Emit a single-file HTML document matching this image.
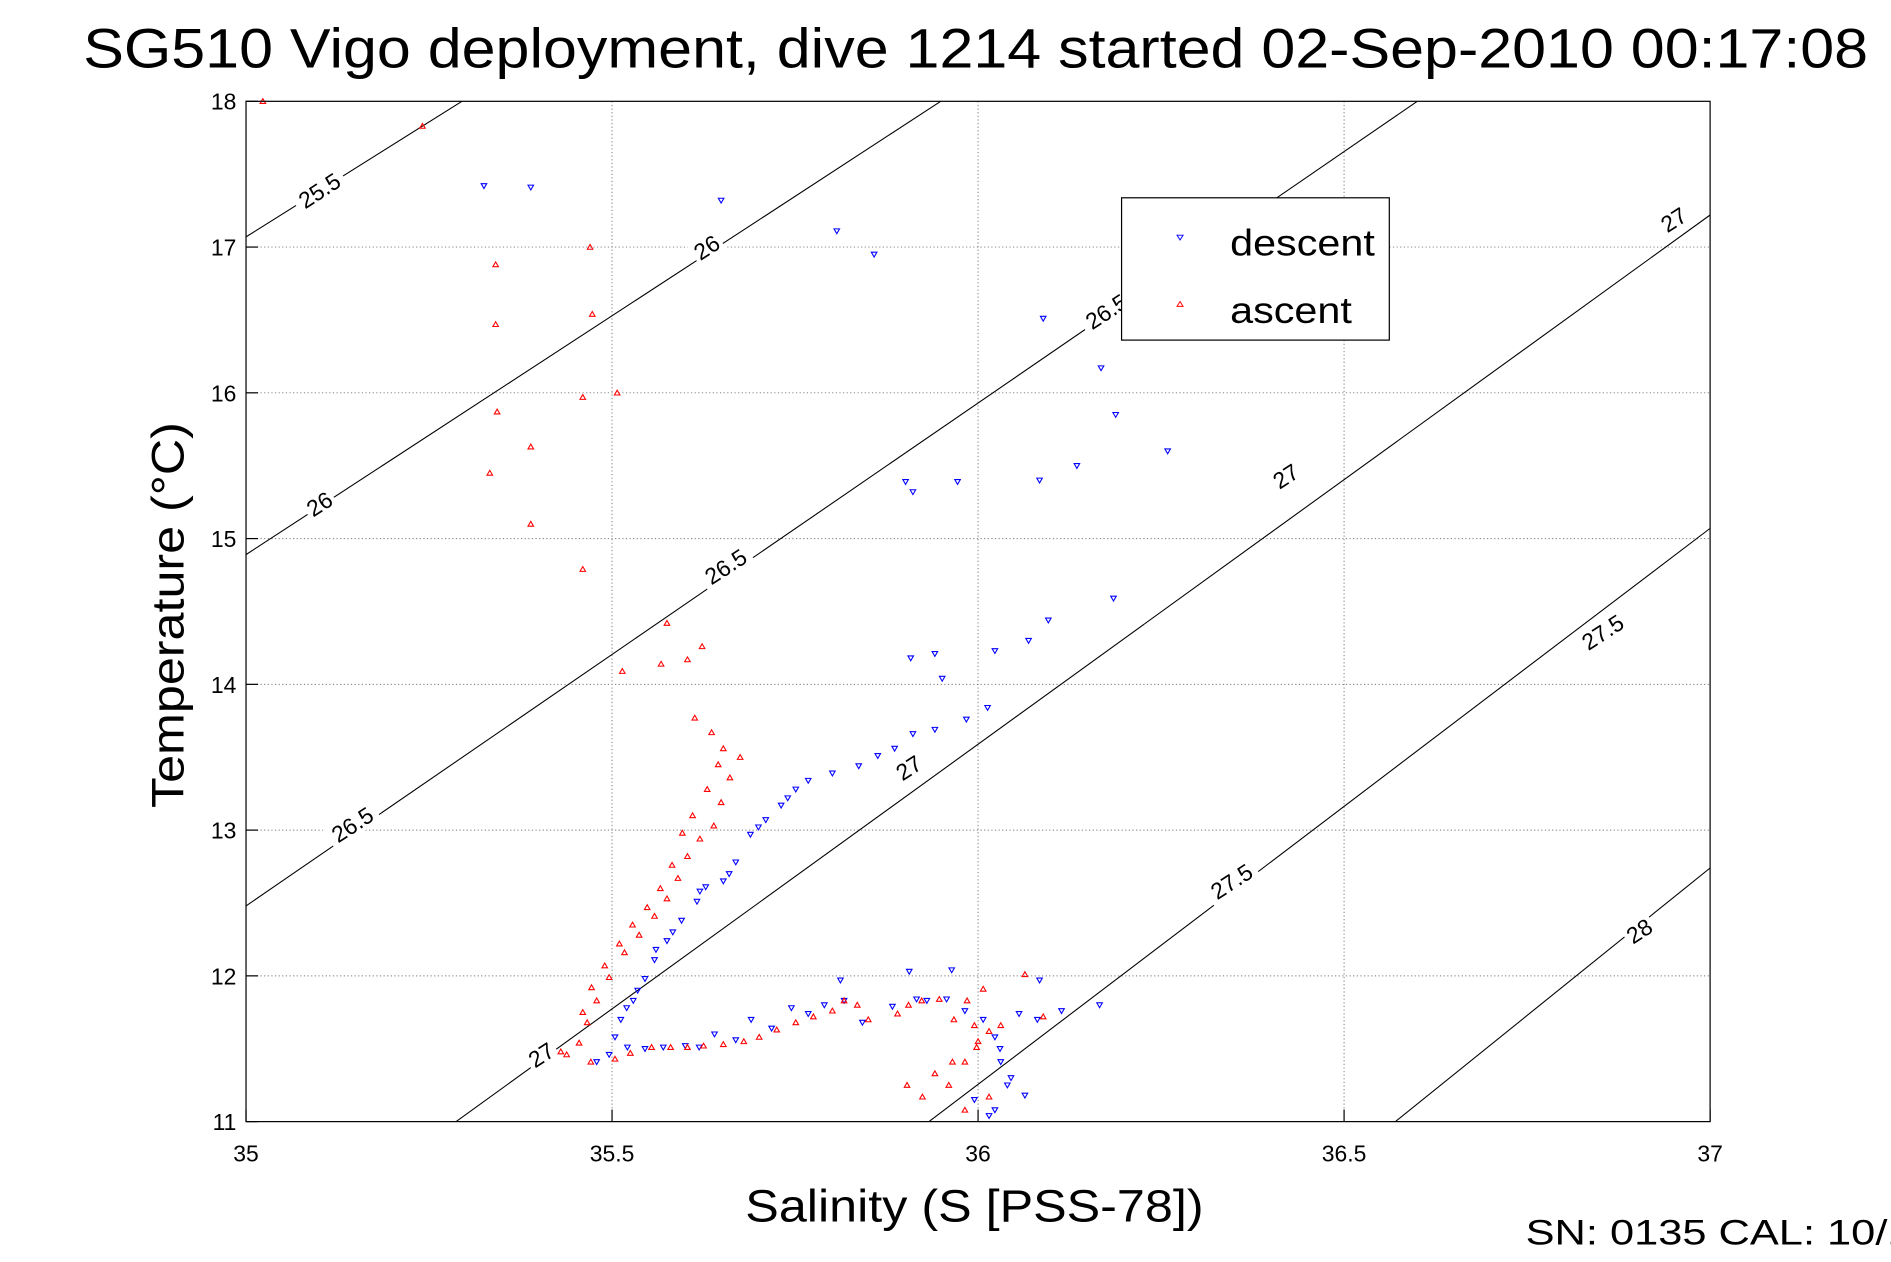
<!DOCTYPE html>
<html><head><meta charset="utf-8"><style>
html,body{margin:0;padding:0;background:#fff}
svg{display:block}
text{font-family:"Liberation Sans",sans-serif;fill:#000}
</style></head><body>
<svg id="chart" width="1891" height="1262" viewBox="0 0 1568 1046.4" preserveAspectRatio="none" xmlns="http://www.w3.org/2000/svg">
<rect width="1568" height="1046.4" fill="#fff"/>
<text x="809" y="56" font-size="46" text-anchor="middle" textLength="1480" lengthAdjust="spacingAndGlyphs">SG510 Vigo deployment, dive 1214 started 02-Sep-2010 00:17:08</text>
<g id="grid"></g>
<g id="contours"></g>
<g id="marks"></g>
<rect x="204" y="84" width="1214" height="846" fill="none" stroke="#000" stroke-width="1"/>
<g id="axes"></g>
<text transform="translate(152,510) rotate(-90)" font-size="38" text-anchor="middle" textLength="320" lengthAdjust="spacingAndGlyphs">Temperature (°C)</text>
<text x="808" y="1013" font-size="38" text-anchor="middle" textLength="380" lengthAdjust="spacingAndGlyphs">Salinity (S [PSS-78])</text>
<text x="1265" y="1032" font-size="29" textLength="320" lengthAdjust="spacingAndGlyphs">SN: 0135  CAL: 10/1</text>
<g>
<rect x="930" y="164" width="222" height="118" fill="#fff" stroke="#000" stroke-width="1"/>
<path d="M976,195 L981,195 L978.5,199 Z" fill="none" stroke="#00f" stroke-width="0.8"/>
<text x="1020" y="212" font-size="31" textLength="120" lengthAdjust="spacingAndGlyphs">descent</text>
<path d="M976,254 L981,254 L978.5,250 Z" fill="none" stroke="#f00" stroke-width="0.8"/>
<text x="1020" y="268" font-size="31" textLength="101" lengthAdjust="spacingAndGlyphs">ascent</text>
</g>
</svg>
<script>
const xTicks=[35,35.5,36,36.5,37];
const xTickLabels=["35","35.5","36","36.5","37"];
const yTicks=[11,12,13,14,15,16,17,18];
const yTickLabels=["11","12","13","14","15","16","17","18"];
const contourLevels=["25.5","26","26.5","27","27.5","28"];
const contourStartS=[35,35,35,35.287,35.933,36.570];
const contourStartT=[17.07,14.89,12.48,11,11,11];
const contourEndS=[35.295,35.949,36.600,37,37,37];
const contourEndT=[18,18,18,17.22,15.07,12.74];
const labelLevel=["25.5","26","26","26.5","26.5","26.5","27","27","27","27","27.5","27.5","28"];
const labelS=[35.100,35.629,35.100,35.655,35.145,36.175,36.950,36.420,35.905,35.403,36.853,36.346,36.903];
const labelT=[17.39,17.00,15.24,14.81,13.04,16.56,17.19,15.43,13.43,11.46,14.36,12.65,12.31];
const descentS=[35.325,35.389,35.649,35.807,35.858,36.089,36.168,36.188,36.259,36.135,36.084,35.901,35.911,35.972,36.185,36.096,36.069,36.023,35.908,35.941,35.951,36.013,35.984,35.941,35.911,35.886,35.863,35.837,35.801,35.768,35.751,35.731,35.710,35.689,35.669,35.652,35.628,35.616,35.595,35.575,35.558,35.545,35.529,35.512,35.504,35.496,35.479,35.521,35.570,35.619,35.669,35.718,35.768,35.817,35.842,35.883,35.916,35.957,35.982,36.007,36.023,36.031,36.040,36.023,36.015,36.056,36.081,36.114,36.166,35.812,35.906,35.964,36.084,36.064,35.995,35.740,35.700,35.660,35.620,35.583,35.560,35.535,35.520,35.545,35.600,35.640,35.690,35.745,35.790,35.930,36.030,36.045];
const descentT=[17.42,17.41,17.32,17.11,16.95,16.51,16.17,15.85,15.60,15.50,15.40,15.39,15.32,15.39,14.59,14.44,14.30,14.23,14.18,14.21,14.04,13.84,13.76,13.69,13.66,13.56,13.51,13.44,13.39,13.34,13.28,13.17,13.07,12.97,12.78,12.65,12.61,12.51,12.38,12.24,12.11,11.98,11.83,11.70,11.58,11.46,11.41,11.51,11.51,11.51,11.56,11.64,11.74,11.83,11.68,11.79,11.84,11.84,11.76,11.70,11.58,11.41,11.25,11.08,11.04,11.74,11.70,11.76,11.80,11.97,12.03,12.04,11.97,11.18,11.15,13.22,13.02,12.70,12.58,12.30,12.18,11.90,11.78,11.50,11.52,11.60,11.70,11.78,11.80,11.83,11.50,11.30];
const ascentS=[35.023,35.241,35.470,35.341,35.341,35.473,35.460,35.507,35.343,35.389,35.333,35.389,35.460,35.575,35.567,35.514,35.603,35.623,35.613,35.636,35.652,35.675,35.661,35.649,35.639,35.620,35.603,35.590,35.575,35.558,35.537,35.517,35.496,35.479,35.466,35.455,35.438,35.430,35.471,35.504,35.554,35.603,35.652,35.701,35.751,35.801,35.817,35.850,35.890,35.923,35.947,35.967,35.995,36.015,36.031,35.998,35.982,35.965,35.941,35.924,35.903,35.982,36.015,36.064,36.007,36.089,35.645,35.630,35.610,35.596,35.582,35.566,35.548,35.528,35.510,35.490,35.472,35.460,35.525,35.580,35.625,35.680,35.725,35.775,35.835,35.905,35.985,36.000,35.960];
const ascentT=[18.00,17.83,17.00,16.88,16.47,16.54,15.97,16.00,15.87,15.63,15.45,15.10,14.79,14.42,14.14,14.09,14.17,14.26,13.77,13.67,13.56,13.50,13.36,13.19,13.03,12.94,12.82,12.67,12.53,12.41,12.28,12.16,11.99,11.83,11.68,11.54,11.46,11.48,11.41,11.43,11.51,11.51,11.53,11.58,11.68,11.76,11.83,11.70,11.74,11.83,11.84,11.70,11.66,11.62,11.66,11.51,11.41,11.41,11.33,11.17,11.25,11.08,11.17,12.01,11.91,11.72,13.45,13.28,13.10,12.98,12.76,12.60,12.47,12.35,12.22,12.07,11.92,11.75,11.47,11.51,11.52,11.55,11.63,11.72,11.80,11.80,11.83,11.55,11.25];

const NS="http://www.w3.org/2000/svg";
const X0=204,X1=1418,Y0=930,Y1=84;
function sx(s){return X0+(s-35)/(37-35)*(X1-X0);}
function ty(t){return Y0-(t-11)/(18-11)*(Y0-Y1);}
function mk(tag,parent){const e=document.createElementNS(NS,tag);parent.appendChild(e);return e;}
const grid=document.getElementById('grid'),axes=document.getElementById('axes'),cont=document.getElementById('contours'),marks=document.getElementById('marks');
xTicks.forEach((v,i)=>{
  const x=sx(v);
  if(i>0&&i<xTicks.length-1){const g=mk('line',grid);
    
    
    g.setAttribute('x1',x);g.setAttribute('x2',x);g.setAttribute('y1',Y1);g.setAttribute('y2',Y0);
    g.setAttribute('stroke','#777');g.setAttribute('stroke-width','0.8');g.setAttribute('stroke-dasharray','1,2');}
  const t=mk('line',axes);
  
  
  t.setAttribute('x1',x);t.setAttribute('x2',x);t.setAttribute('y1',Y0);t.setAttribute('y2',Y0-10);t.setAttribute('stroke','#000');
  const l=mk('text',axes);
  
  
  l.setAttribute('x',x);l.setAttribute('y',963);l.setAttribute('font-size','19');l.setAttribute('text-anchor','middle');
  l.textContent=xTickLabels[i];
});
yTicks.forEach((v,i)=>{
  const y=ty(v);
  if(i>0&&i<yTicks.length-1){const g=mk('line',grid);
    
    
    g.setAttribute('x1',X0);g.setAttribute('x2',X1);g.setAttribute('y1',y);g.setAttribute('y2',y);
    g.setAttribute('stroke','#777');g.setAttribute('stroke-width','0.8');g.setAttribute('stroke-dasharray','1,2');}
  const t=mk('line',axes);
  
  
  t.setAttribute('x1',X0);t.setAttribute('x2',X0+10);t.setAttribute('y1',y);t.setAttribute('y2',y);t.setAttribute('stroke','#000');
  const l=mk('text',axes);
  
  
  l.setAttribute('x',196);l.setAttribute('y',y+7);l.setAttribute('font-size','19');l.setAttribute('text-anchor','end');
  l.textContent=yTickLabels[i];
});
contourLevels.forEach((lv,i)=>{
  const c=mk('line',cont);
  
  
  c.setAttribute('x1',sx(contourStartS[i]));c.setAttribute('y1',ty(contourStartT[i]));
  c.setAttribute('x2',sx(contourEndS[i]));c.setAttribute('y2',ty(contourEndT[i]));
  c.setAttribute('stroke','#000');c.setAttribute('stroke-width','0.9');
});
labelLevel.forEach((lv,i)=>{
  const g=mk('g',cont);
  
  
  g.setAttribute('transform','translate('+sx(labelS[i])+','+ty(labelT[i])+') rotate(-33)');
  const r=mk('rect',g);
  const w=lv.length*10+6;
  r.setAttribute('x',-w/2);r.setAttribute('y',-10);r.setAttribute('width',w);r.setAttribute('height',20);r.setAttribute('fill','#fff');
  const t=mk('text',g);
  t.setAttribute('x',0);t.setAttribute('y',7);t.setAttribute('font-size','19');t.setAttribute('text-anchor','middle');
  t.textContent=lv;
});
function tri(s,t,down,color,name){
  const x=sx(s),y=ty(t);
  const p=mk('path',marks);
  
  
  const d=down?`M${x-2.3},${y-1.8} L${x+2.3},${y-1.8} L${x},${y+2.2} Z`:`M${x-2.3},${y+1.8} L${x+2.3},${y+1.8} L${x},${y-2.2} Z`;
  p.setAttribute('d',d);p.setAttribute('fill','none');p.setAttribute('stroke',color);p.setAttribute('stroke-width','0.9');
}
descentS.forEach((s,i)=>tri(s,descentT[i],true,'#00f','descent-point'));
ascentS.forEach((s,i)=>tri(s,ascentT[i],false,'#f00','ascent-point'));
</script>
</body></html>
